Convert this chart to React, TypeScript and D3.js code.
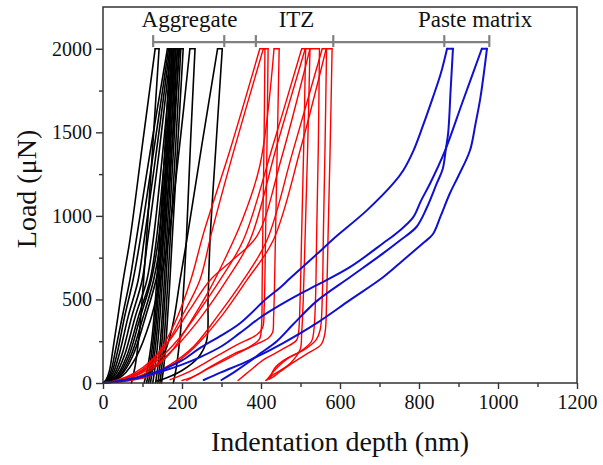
import React, { useEffect, useRef } from 'react'
import * as d3 from 'd3'

type Pt = [number, number]

// [depth nm, load uN]: loading, hold at 2000, unloading
const aggregateCurves: Pt[][] = [
  [[0,0],[8,20],[16,70],[26,215],[38,400],[51,615],[68,854],[100,1430],[132,2000],[142,2000],[126,1420],[110,854],[101,560],[92,300],[82,110],[72,0]],
  [[0,0],[10,20],[20,70],[32,200],[50,410],[68,615],[84,854],[122,1420],[163,2000],[170,2000],[157,1420],[143,854],[134,540],[124,270],[112,80],[104,0]],
  [[0,0],[10,15],[22,60],[36,180],[55,400],[76,615],[94,854],[129,1400],[166,2000],[174,2000],[161,1420],[147,854],[138,560],[128,280],[117,80],[110,0]],
  [[0,0],[12,15],[26,60],[42,180],[64,400],[89,615],[104,854],[136,1400],[169,2000],[177,2000],[164,1420],[150,854],[141,560],[132,290],[122,90],[115,0]],
  [[0,0],[12,12],[28,50],[48,170],[72,390],[99,615],[113,854],[143,1400],[172,2000],[180,2000],[167,1420],[153,854],[145,560],[136,290],[126,90],[120,0]],
  [[0,0],[14,12],[32,50],[55,170],[82,400],[111,615],[127,854],[152,1400],[176,2000],[184,2000],[171,1420],[157,854],[149,560],[141,300],[132,100],[126,0]],
  [[0,0],[15,10],[35,45],[60,160],[90,400],[119,615],[135,854],[158,1400],[180,2000],[188,2000],[175,1420],[161,854],[154,560],[147,300],[139,100],[133,0]],
  [[0,0],[16,10],[38,45],[65,160],[95,400],[122,615],[140,854],[163,1400],[184,2000],[192,2000],[179,1420],[165,854],[158,560],[151,300],[144,100],[139,0]],
  [[0,0],[18,10],[42,45],[70,160],[102,400],[128,615],[146,854],[168,1400],[189,2000],[197,2000],[184,1420],[170,854],[163,560],[156,300],[149,100],[144,0]],
  [[0,0],[20,10],[45,45],[75,160],[108,400],[134,615],[152,854],[174,1400],[194,2000],[203,2000],[189,1420],[175,854],[168,560],[161,300],[154,100],[148,0]],
  [[0,0],[22,10],[50,45],[85,160],[118,360],[145,615],[165,854],[193,1400],[220,2000],[233,2000],[222,1460],[211,854],[204,560],[196,300],[186,100],[178,0]],
  [[0,0],[40,10],[80,30],[120,70],[150,150],[175,330],[195,615],[212,854],[250,1420],[290,2000],[302,2000],[286,1420],[271,854],[266,500],[262,250],[240,150],[200,75],[160,30],[136,12]],
]

const itzCurves: Pt[][] = [
  [[0,0],[30,10],[60,30],[100,80],[140,180],[180,350],[222,615],[255,900],[321,1390],[397,2000],[410,2000],[408,1500],[405,1000],[403,600],[401,330],[396,262],[370,215],[329,172],[270,95],[235,45],[212,15]],
  [[0,0],[35,10],[70,30],[110,85],[150,190],[200,400],[245,615],[275,900],[330,1380],[406,2000],[418,2000],[415,1400],[411,800],[408,450],[404,330],[390,290],[340,230],[280,150],[220,70],[170,20]],
  [[0,0],[40,10],[80,30],[120,75],[170,180],[220,360],[270,560],[300,700],[350,960],[397,1300],[433,2000],[446,2000],[441,1400],[436,800],[432,400],[429,300],[418,268],[405,250],[360,200],[321,152],[270,90],[230,40],[200,15]],
  [[0,0],[40,15],[90,60],[140,140],[190,260],[240,420],[296,615],[355,854],[430,1420],[503,2000],[513,2000],[508,1400],[503,900],[499,500],[495,300],[490,256],[460,210],[430,170],[405,137],[370,70],[342,15]],
  [[0,0],[40,12],[90,50],[140,120],[190,230],[250,400],[313,615],[372,854],[440,1420],[512,2000],[524,2000],[518,1400],[512,900],[507,500],[503,300],[499,200],[475,120],[445,70],[425,40],[412,15]],
  [[0,0],[40,20],[80,60],[120,130],[170,260],[220,440],[271,615],[330,740],[390,880],[450,1330],[524,2000],[548,2000],[545,1400],[541,900],[538,500],[534,320],[528,250],[500,190],[460,140],[435,90],[423,30]],
  [[0,0],[50,10],[110,40],[170,110],[230,220],[290,400],[355,615],[415,854],[480,1380],[555,2000],[566,2000],[562,1400],[558,900],[555,500],[550,320],[540,260],[510,200],[470,150],[440,90],[425,50],[415,18]],
  [[0,0],[50,8],[110,35],[170,100],[230,210],[300,400],[364,615],[431,854],[500,1400],[565,2000],[580,2000],[575,1400],[570,900],[566,500],[562,300],[552,230],[520,180],[480,120],[450,70],[430,35],[420,22]],
]

const pasteCurves: Pt[][] = [
  [[0,0],[40,12],[94,36],[150,80],[200,135],[246,210],[300,285],[347,358],[414,505],[448,570],[473,625],[541,770],[583,862],[668,1033],[735,1194],[760,1272],[786,1391],[810,1540],[835,1708],[855,1850],[871,2000],
   [886,2000],[880,1750],[874,1500],[868,1400],[860,1280],[845,1194],[820,1050],[794,935],[750,850],[709,776],[625,633],[541,490],[481,350],[440,250],[400,180],[372,130],[335,70],[300,18]],
  [[0,0],[40,10],[94,34],[150,70],[200,110],[246,155],[300,220],[347,300],[400,395],[448,466],[500,535],[541,585],[625,693],[709,836],[750,910],[785,991],[805,1090],[828,1194],[866,1391],[910,1680],[959,2000],
   [972,2000],[964,1850],[955,1700],[943,1550],[929,1391],[900,1240],[878,1134],[855,1000],[835,890],[810,836],[760,735],[709,633],[625,496],[541,358],[456,239],[372,137],[300,65],[255,18]],
]

const xTicks = [0, 200, 400, 600, 800, 1000, 1200]
const xMinorTicks = [100, 300, 500, 700, 900, 1100]
const yTicks = [0, 500, 1000, 1500, 2000]
const yMinorTicks = [250, 750, 1250, 1750]

const bracketLoad = 2040
const bracketCaps = [127, 307, 387, 583, 864, 978]
const regionLabels = ['Aggregate', 'ITZ', 'Paste matrix']
const regionCenters = [219, 490, 942]

const W = 603, H = 465
const margin = { top: 7, right: 26, bottom: 82, left: 103 }
const serif = "'Liberation Serif', 'Times New Roman', serif"

// cut a curve at the hold so the peak corners stay sharp
function pieces(c: Pt[]): Pt[][] {
  const i = c.findIndex(p => p[1] === 2000)
  let j = i
  while (j + 1 < c.length && c[j + 1][1] === 2000) j++
  return [c.slice(0, i + 1), c.slice(i, j + 1), c.slice(j)]
}

export default function App() {
  const ref = useRef<SVGSVGElement>(null)

  useEffect(() => {
    if (!ref.current) return
    const svg = d3.select(ref.current)
    svg.selectAll('*').remove()

    const x = d3.scaleLinear().domain([0, 1200]).range([margin.left, W - margin.right])
    const y = d3.scaleLinear().domain([0, 2250]).range([H - margin.bottom, margin.top])
    const line = d3.line<Pt>().x(d => x(d[0])).y(d => y(d[1])).curve(d3.curveCatmullRom.alpha(0.5))

    svg.append('rect').attr('width', W).attr('height', H).attr('fill', '#fff')

    const sets = [
      { curves: aggregateCurves, color: '#000000', w: 1.6 },
      { curves: itzCurves, color: '#ff0000', w: 1.4 },
      { curves: pasteCurves, color: '#1010d0', w: 2 },
    ]
    sets.forEach(s => {
      svg.append('g').selectAll('path').data(s.curves.flatMap(pieces)).join('path')
        .attr('d', d => line(d))
        .attr('fill', 'none')
        .attr('stroke', s.color)
        .attr('stroke-width', s.w)
        .attr('stroke-linejoin', 'round')
        .attr('stroke-linecap', 'round')
    })

    // region bracket
    const by = y(bracketLoad)
    const br = svg.append('g').attr('stroke', '#808080').attr('stroke-width', 2.2)
    br.append('line').attr('x1', x(bracketCaps[0])).attr('x2', x(bracketCaps[bracketCaps.length - 1]))
      .attr('y1', by).attr('y2', by)
    br.selectAll('line.cap').data(bracketCaps).join('line').attr('class', 'cap')
      .attr('x1', d => x(d)).attr('x2', d => x(d)).attr('y1', by - 7).attr('y2', by + 5)
    svg.append('g').selectAll('text').data(regionLabels).join('text')
      .attr('x', (d, i) => x(regionCenters[i])).attr('y', by - 15)
      .attr('text-anchor', 'middle').attr('font-family', serif).attr('font-size', 23)
      .attr('fill', '#111').text(d => d)

    // axes
    const axisColor = '#333'
    const fmt = d3.format('d')
    const xa = svg.append('g').attr('transform', `translate(0,${y(0)})`)
      .call(d3.axisBottom(x).tickValues(xTicks).tickFormat(d => fmt(d as number)).tickSize(6).tickSizeOuter(0).tickPadding(6))
    xa.append('g').call(d3.axisBottom(x).tickValues(xMinorTicks).tickSize(4).tickFormat(() => ''))
    const ya = svg.append('g').attr('transform', `translate(${x(0)},0)`)
      .call(d3.axisLeft(y).tickValues(yTicks).tickFormat(d => fmt(d as number)).tickSize(7).tickSizeOuter(0).tickPadding(4))
    ya.append('g').call(d3.axisLeft(y).tickValues(yMinorTicks).tickSize(4).tickFormat(() => ''))
    ;[xa, ya].forEach(a => {
      a.selectAll('.domain').remove()
      a.selectAll('line').attr('stroke', axisColor).attr('stroke-width', 1.4)
      a.selectAll('text').attr('font-family', serif).attr('font-size', 20).attr('fill', '#111')
    })

    svg.append('rect')
      .attr('x', x(0)).attr('y', y(2250))
      .attr('width', x(1200) - x(0)).attr('height', y(0) - y(2250))
      .attr('fill', 'none').attr('stroke', axisColor).attr('stroke-width', 1.5)

    svg.append('text')
      .attr('x', (x(0) + x(1200)) / 2).attr('y', 451)
      .attr('text-anchor', 'middle').attr('font-family', serif).attr('font-size', 28)
      .attr('fill', '#111').text('Indentation depth (nm)')
    svg.append('text')
      .attr('transform', `translate(36,${(y(0) + y(2250)) / 2 - 6}) rotate(-90)`)
      .attr('text-anchor', 'middle').attr('font-family', serif).attr('font-size', 28)
      .attr('fill', '#111').text('Load (\u03bcN)')
  }, [])

  return (
    <svg ref={ref} width={W} height={H} style={{ position: 'absolute', left: 0, top: 0 }} />
  )
}
